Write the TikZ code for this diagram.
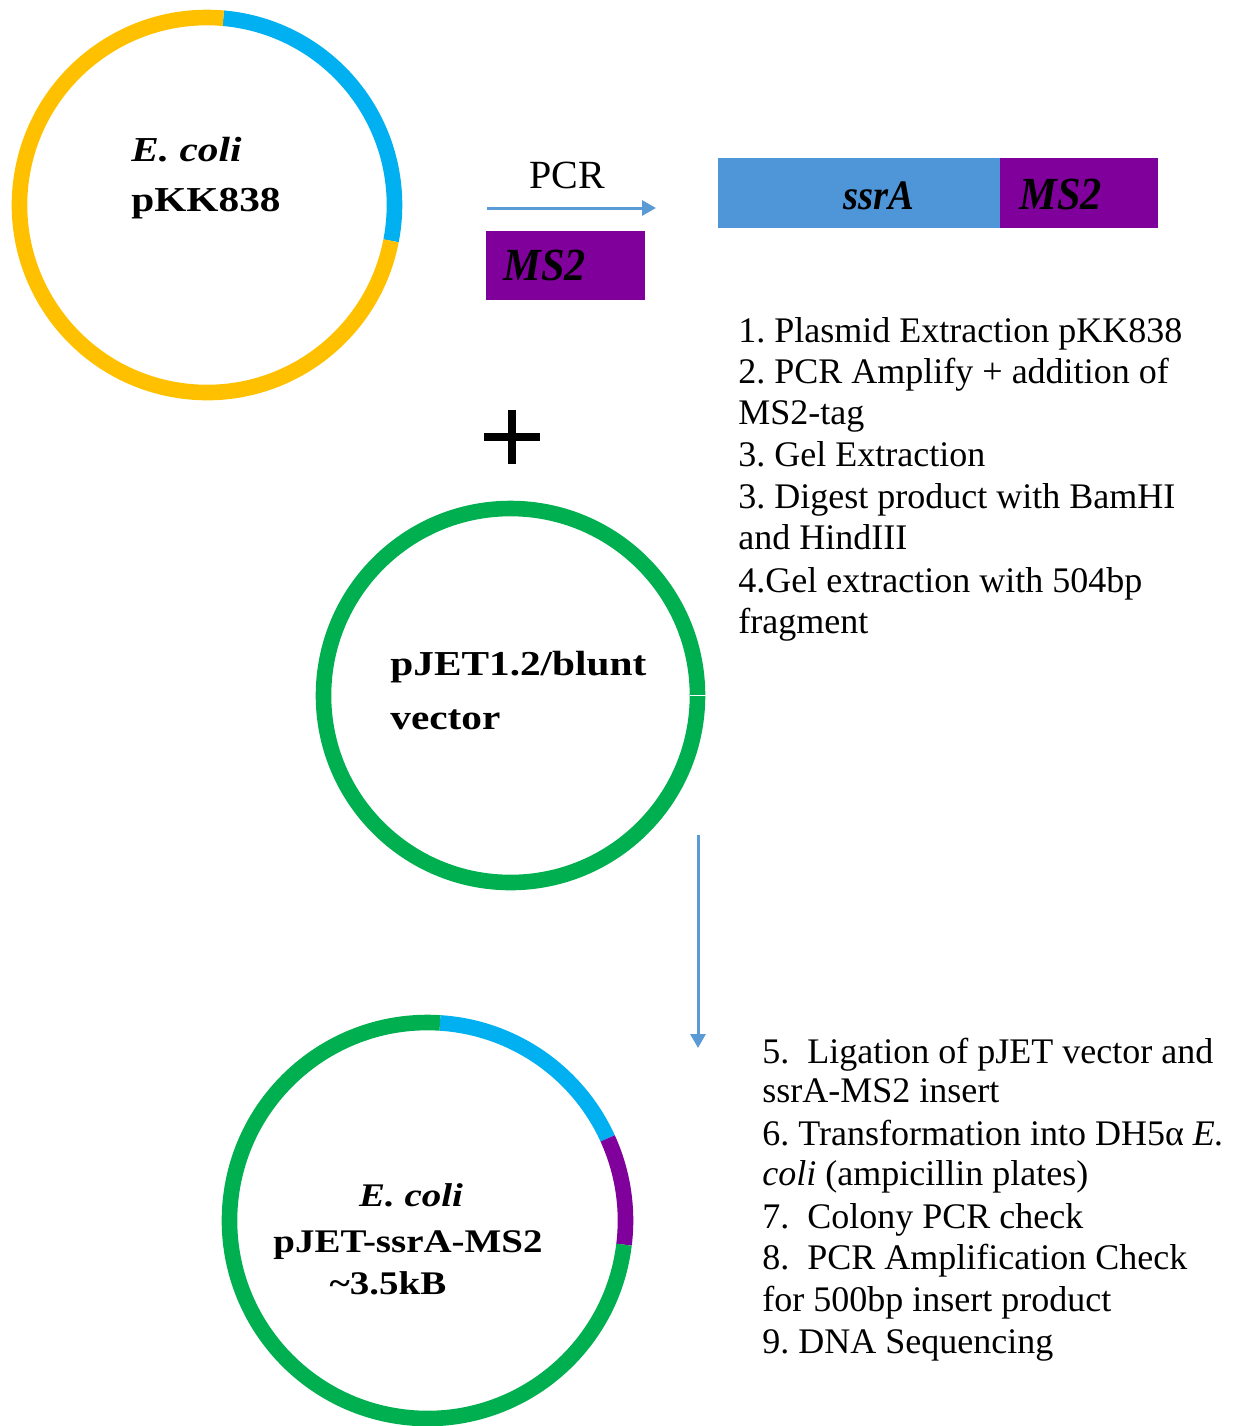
\documentclass[tikz,border=0pt]{standalone}
\usepackage{fontspec}
\setmainfont{Liberation Serif}
\newfontfamily\wideserif[FakeStretch=1.18]{Liberation Serif}
\newfontfamily\narrowserif[FakeStretch=0.92]{Liberation Serif}
\usetikzlibrary{arrows.meta}
\frenchspacing
\definecolor{ringyellow}{HTML}{FFC000}
\definecolor{ringblue}{HTML}{00B0F0}
\definecolor{ringgreen}{HTML}{00B050}
\definecolor{msp}{RGB}{127,0,155}
\definecolor{barblue}{RGB}{78,150,216}
\definecolor{arrblue}{HTML}{5B9BD5}
\tikzset{
  ring/.style={line width=7.8pt},
  arr/.style={draw=arrblue, line width=1.5pt, -{Triangle[length=7pt,width=7.5pt]}},
  steptext/.style={anchor=base west, inner sep=0pt, font=\frenchspacing\fontsize{18pt}{21pt}\selectfont},
  plasmidlabel/.style={anchor=base west, inner sep=0pt, font=\wideserif\fontsize{17.5pt}{20pt}\selectfont\bfseries},
  blocklabel/.style={inner sep=0pt, font=\narrowserif\fontsize{23pt}{26pt}\selectfont\bfseries\itshape},
  block/.style={inner sep=0pt, anchor=north west, minimum height=35pt}
}
\begin{document}
\begin{tikzpicture}[x=0.5pt,y=0.5pt]
\useasboundingbox (0,0) rectangle (1235,-1426);

% ---------- plasmid 1 ----------
\coordinate (c1) at (207,-205);
\draw[ring, ringblue] (c1) ++(85:187.5) arc[start angle=85, end angle=-11, radius=187.5];
\draw[ring, ringyellow] (c1) ++(-11:187.5) arc[start angle=-11, end angle=-275, radius=187.5];
\node[plasmidlabel] (ecoli1) at (131,-161) {\itshape E. coli};
\node[plasmidlabel] (pkk) at (131,-211) {pKK838};

% ---------- PCR ----------
\node[anchor=base, inner sep=0pt, font=\fontsize{20pt}{24pt}\selectfont] (pcr) at (567,-188) {PCR};
\coordinate (pcrA) at (487,-208);
\coordinate (pcrB) at (656,-208);
\draw[arr] (pcrA) -- (pcrB);

\node[block, fill=msp, minimum width=79.5pt, minimum height=34.5pt] (msbox) at (486,-231) {};
\node[blocklabel, anchor=base west] (mstext) at (503,-280) {MS2};

\node[block, fill=barblue, minimum width=141pt] (ssrabar) at (718,-158) {};
\node[block, fill=msp, minimum width=79pt] (ms2bar) at (1000,-158) {};
\node[blocklabel, anchor=base, font=\narrowserif\fontsize{21pt}{24pt}\selectfont\bfseries\itshape] (ssratext) at (879,-209) {ssrA};
\node[blocklabel, anchor=base west] (ms2text) at (1019,-209) {MS2};

% ---------- steps 1-4 ----------
\node[steptext] (s1) at (738,-342) {1. Plasmid Extraction pKK838};
\node[steptext] (s2) at (738,-383) {2. PCR Amplify + addition of};
\node[steptext] (s3) at (738,-424) {MS2-tag};
\node[steptext] (s4) at (738,-466) {3. Gel Extraction};
\node[steptext] (s5) at (738,-508) {3. Digest product with BamHI};
\node[steptext] (s6) at (738,-549) {and HindIII};
\node[steptext] (s7) at (738,-592) {4.Gel extraction with 504bp};
\node[steptext] (s8) at (738,-633) {fragment};

% ---------- plus ----------
\coordinate (plusC) at (512,-437);
\draw[line width=3.6pt] (484,-437) -- (540,-437);
\draw[line width=3.6pt] (512,-410) -- (512,-464);

% ---------- plasmid 2 ----------
\coordinate (c2) at (510.5,-695.5);
\draw[ring, ringgreen] (c2) circle[radius=187];
\draw[white, line width=0.5pt] (c2) ++(0:179) -- ++(0:16);
\node[plasmidlabel] (pjet) at (390,-675) {pJET1.2/blunt};
\node[plasmidlabel] (vec) at (390,-729) {vector};

% ---------- down arrow ----------
\coordinate (dA) at (698,-835);
\coordinate (dB) at (698,-1048);
\draw[arr] (dA) -- (dB);

% ---------- plasmid 3 ----------
\coordinate (c3) at (427.5,-1220.5);
\draw[ring, ringblue] (c3) ++(86.4:198) arc[start angle=86.4, end angle=24.5, radius=198];
\draw[ring, msp] (c3) ++(24.5:198) arc[start angle=24.5, end angle=-7, radius=198];
\draw[ring, ringgreen] (c3) ++(-7:198) arc[start angle=-7, end angle=-273.6, radius=198];
\node[plasmidlabel, anchor=base, font=\wideserif\fontsize{16.5pt}{20pt}\selectfont\bfseries\itshape] (ecoli3) at (411,-1206) {E. coli};
\node[plasmidlabel, anchor=base, font=\wideserif\fontsize{16.5pt}{20pt}\selectfont\bfseries] (pjetms) at (408,-1252) {pJET-ssrA-MS2};
\node[plasmidlabel, anchor=base, font=\wideserif\fontsize{16.5pt}{20pt}\selectfont\bfseries] (kb) at (388,-1294) {\char`\~3.5kB};

% ---------- steps 5-9 ----------
\node[steptext] (t1) at (762,-1063) {5.\ \ Ligation of pJET vector and};
\node[steptext] (t2) at (762,-1102) {ssrA-MS2 insert};
\node[steptext] (t3) at (762,-1145) {6. Transformation into DH5α \textit{E.}};
\node[steptext] (t4) at (762,-1185) {\textit{coli} (ampicillin plates)};
\node[steptext] (t5) at (762,-1228) {7.\ \ Colony PCR check};
\node[steptext] (t6) at (762,-1269) {8.\ \ PCR Amplification Check};
\node[steptext] (t7) at (762,-1311) {for 500bp insert product};
\node[steptext] (t8) at (762,-1353) {9. DNA Sequencing};
\end{tikzpicture}
\end{document}
